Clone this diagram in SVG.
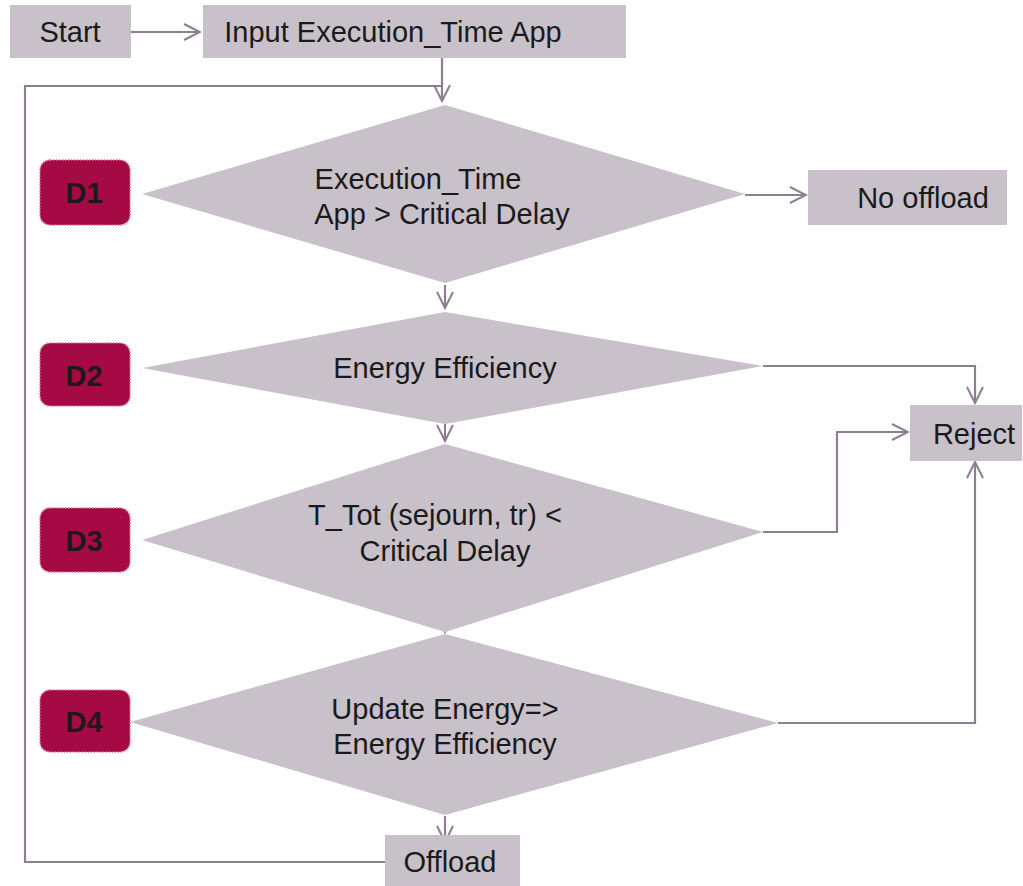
<svg xmlns="http://www.w3.org/2000/svg" width="1023" height="886" viewBox="0 0 1023 886">
<defs>
<style>
.box{fill:#C8C1C9}
.dia{fill:#C8C1C9}
.lbl{fill:#A50A45;stroke:#E07090;stroke-width:1.5;stroke-dasharray:1.5 1.5}
.t{font-family:"Liberation Sans",Arial,sans-serif;font-size:29px;fill:#1a1a1a;text-anchor:middle}
.tb{font-family:"Liberation Sans",Arial,sans-serif;font-size:29px;font-weight:bold;fill:#1a1a1a;text-anchor:middle}
.c{fill:none;stroke:#8C7F92;stroke-width:2.2}
</style>
<marker id="ah" viewBox="0 0 20 20" refX="18" refY="10" markerWidth="20" markerHeight="20" markerUnits="userSpaceOnUse" orient="auto">
<polyline points="2,2 18,10 2,18" fill="none" stroke="#8C7F92" stroke-width="2"/>
</marker>
</defs>
<rect width="1023" height="886" fill="#fff"/>
<g id="connectors">
<line class="c" x1="131" y1="32" x2="200" y2="32" marker-end="url(#ah)"/>
<polyline class="c" points="442,58 442,101" marker-end="url(#ah)"/>
<polyline class="c" points="385,862 25,862 25,86 442,86"/>
<line class="c" x1="745" y1="195" x2="806" y2="195" marker-end="url(#ah)"/>
<line class="c" x1="445" y1="285" x2="445" y2="308" marker-end="url(#ah)"/>
<polyline class="c" points="763,366 975,366 975,403" marker-end="url(#ah)"/>
<line class="c" x1="445" y1="424" x2="445" y2="441" marker-end="url(#ah)"/>
<polyline class="c" points="763,532 837,532 837,432 908,432" marker-end="url(#ah)"/>
<line class="c" x1="445" y1="614" x2="445" y2="632" marker-end="url(#ah)"/>
<polyline class="c" points="778,723 975,723 975,462" marker-end="url(#ah)"/>
<line class="c" x1="445" y1="816" x2="445" y2="842" marker-end="url(#ah)"/>
</g>
<g id="start"><rect class="box" x="10" y="5" width="121" height="53"/><text class="t" x="70" y="42">Start</text></g>
<g id="input"><rect class="box" x="203" y="5" width="423" height="53"/><text class="t" x="393" y="42">Input Execution_Time App</text></g>
<g id="d1"><polygon class="dia" points="445,105 745,194 445,283 142,194"/><text class="t" x="418" y="189">Execution_Time</text><text class="t" x="442" y="224">App &gt; Critical Delay</text></g>
<g id="d1label"><rect class="lbl" x="40" y="160" width="90" height="65" rx="10"/><text class="tb" x="84" y="203">D1</text></g>
<g id="nooffload"><rect class="box" x="808" y="170" width="199" height="55"/><text class="t" x="923" y="208">No offload</text></g>
<g id="d2"><polygon class="dia" points="445,312 763,366 445,424 142,368"/><text class="t" x="445" y="378">Energy Efficiency</text></g>
<g id="d2label"><rect class="lbl" x="40" y="343" width="90" height="63" rx="10"/><text class="tb" x="84" y="386">D2</text></g>
<g id="reject"><rect class="box" x="910" y="405" width="112" height="56"/><text class="t" x="974" y="444">Reject</text></g>
<g id="d3"><polygon class="dia" points="445,444 763,532 445,632 142,540"/><text class="t" x="435" y="525">T_Tot (sejourn, tr) &lt;</text><text class="t" x="445" y="561">Critical Delay</text></g>
<g id="d3label"><rect class="lbl" x="40" y="508" width="90" height="64" rx="10"/><text class="tb" x="84" y="551">D3</text></g>
<g id="d4"><polygon class="dia" points="445,634 778,723 445,815 130,722"/><text class="t" x="445" y="719">Update Energy=&gt;</text><text class="t" x="445" y="754">Energy Efficiency</text></g>
<g id="d4label"><rect class="lbl" x="40" y="690" width="90" height="62" rx="10"/><text class="tb" x="84" y="732">D4</text></g>
<g id="offload"><rect class="box" x="385" y="835" width="135" height="51"/><text class="t" x="450" y="872">Offload</text></g>
</svg>
